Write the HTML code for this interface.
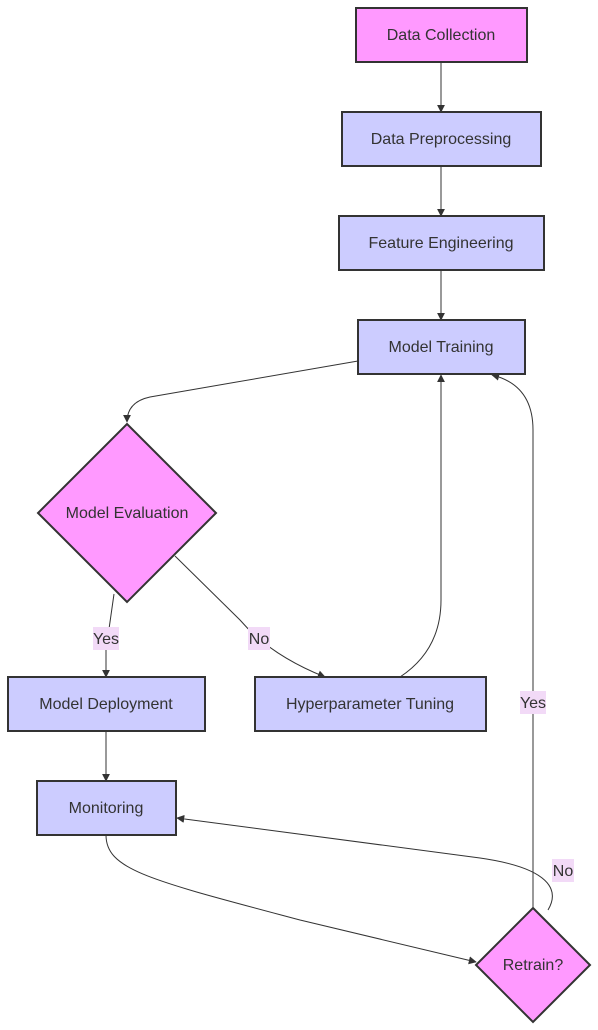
<!DOCTYPE html>
<html><head><meta charset="utf-8"><style>
html,body{margin:0;padding:0;background:#fff;}
svg{display:block;}
text{font-family:"Liberation Sans","DejaVu Sans",sans-serif;font-size:16px;fill:#333;}
.b{fill:#ccccff;stroke:#333;stroke-width:2;}
.p{fill:#ff99ff;stroke:#333;stroke-width:2;}
.e{fill:none;stroke:#333;stroke-width:1;}
.lb{fill:#f2daf7;}
</style></head><body>
<svg width="598" height="1030" viewBox="0 0 598 1030" xmlns="http://www.w3.org/2000/svg">
<defs><marker id="a" viewBox="0 0 10 10" refX="9" refY="5" markerWidth="8" markerHeight="8" orient="auto"><path d="M0,0L10,5L0,10z" fill="#333"/></marker></defs>
<g class="e">
<path d="M441,62V112" marker-end="url(#a)"/>
<path d="M441,166V216" marker-end="url(#a)"/>
<path d="M441,270V320" marker-end="url(#a)"/>
<path d="M358,361 L150,397 Q127,402 127,422" marker-end="url(#a)"/>
<path d="M114,594 L106,650 L106,677" marker-end="url(#a)"/>
<path d="M175,556 L240,620 Q270,655 325,677" marker-end="url(#a)"/>
<path d="M400,677 Q441,650 441,600 L441,375" marker-end="url(#a)"/>
<path d="M106,731V781" marker-end="url(#a)"/>
<path d="M106,835 C106,870 150,880 300,920 L476,962" marker-end="url(#a)"/>
<path d="M533,910 L533,430 Q533,385 492,375" marker-end="url(#a)"/>
<path d="M548,910 C560,890 550,868 480,858 L177,818" marker-end="url(#a)"/>
</g>
<rect class="p" x="356" y="8" width="171" height="54"/><text x="441" y="40" text-anchor="middle">Data Collection</text>
<rect class="b" x="342" y="112" width="199" height="54"/><text x="441" y="144" text-anchor="middle">Data Preprocessing</text>
<rect class="b" x="339" y="216" width="205" height="54"/><text x="441" y="248" text-anchor="middle">Feature Engineering</text>
<rect class="b" x="358" y="320" width="167" height="54"/><text x="441" y="352" text-anchor="middle">Model Training</text>
<polygon class="p" points="127,424 216,513 127,602 38,513"/><text x="127" y="518" text-anchor="middle">Model Evaluation</text>
<rect class="b" x="8" y="677" width="197" height="54"/><text x="106" y="709" text-anchor="middle">Model Deployment</text>
<rect class="b" x="255" y="677" width="231" height="54"/><text x="370" y="709" text-anchor="middle">Hyperparameter Tuning</text>
<rect class="b" x="37" y="781" width="139" height="54"/><text x="106" y="813" text-anchor="middle">Monitoring</text>
<polygon class="p" points="533,908 590,965 533,1022 476,965"/><text x="533" y="970" text-anchor="middle">Retrain?</text>
<rect class="lb" x="93" y="627" width="26" height="23"/><text x="106" y="644" text-anchor="middle">Yes</text>
<rect class="lb" x="248" y="627" width="22" height="23"/><text x="259" y="644" text-anchor="middle">No</text>
<rect class="lb" x="520" y="691" width="26" height="23"/><text x="533" y="708" text-anchor="middle">Yes</text>
<rect class="lb" x="552" y="859" width="22" height="23"/><text x="563" y="876" text-anchor="middle">No</text>
</svg>
</body></html>
